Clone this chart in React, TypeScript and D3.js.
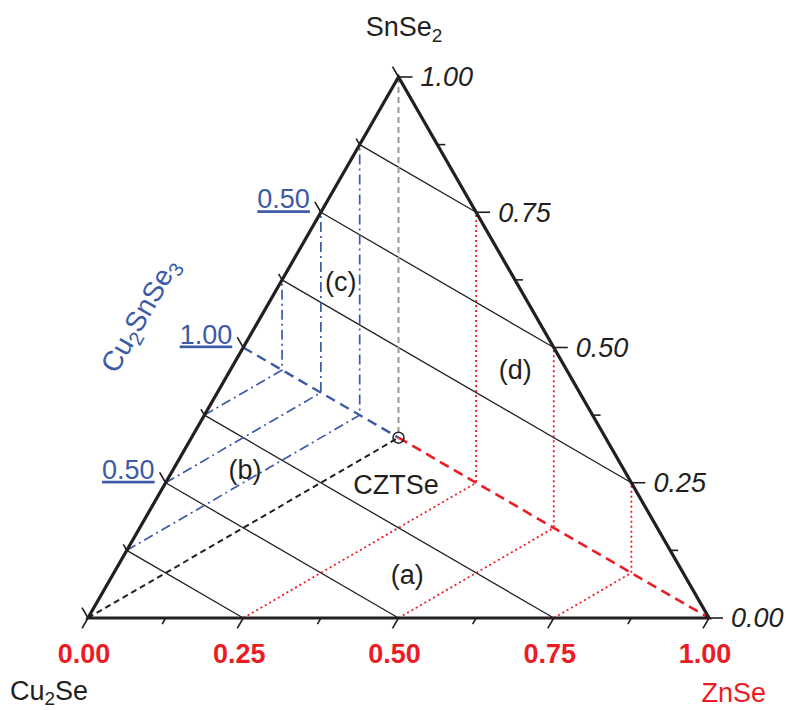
import React from "react";
import * as d3 from "d3";

// ternary frame: Cu2Se (left), ZnSe (right), SnSe2 (top)
const H = Math.sqrt(3) / 2;
const tickFractions = [0, 0.125, 0.25, 0.375, 0.5, 0.625, 0.75, 0.875, 1];
const majorFractions = [0, 0.25, 0.5, 0.75, 1];
const bottomLabels = ["0.00", "0.25", "0.50", "0.75", "1.00"]; // ZnSe
const rightLabels = ["0.00", "0.25", "0.50", "0.75", "1.00"]; // SnSe2
const leftLabelFractions = [0.25, 0.5, 0.75];
const leftLabels = ["0.50", "1.00", "0.50"]; // Cu2SnSe3
const gridFromLeft = [0.125, 0.25, 0.375, 0.625, 0.75, 0.875];
const blueFromLeft = [0.125, 0.25, 0.375];
const redFromBottom = [0.25, 0.5, 0.75];
const regionNames = ["(a)", "(b)", "(c)", "(d)", "CZTSe"];
const regionX = [0.514, 0.253, 0.407, 0.688, 0.496];
const regionY = [0.069, 0.237, 0.539, 0.397, 0.213];

const BLACK = "#231f20";
const BLUE = "#3c5aa6";
const RED = "#ed1c24";
const FONT = "'Liberation Sans', Arial, sans-serif";
const FS = 27;

type P = [number, number];

const A: P = [0, 0];
const B: P = [1, 0];
const C: P = [0.5, H];
const G: P = [0.5, H / 3]; // CZTSe
const M: P = [0.25, H / 2]; // Cu2SnSe3

const leftPt = (f: number): P => [0.5 * f, H * f];
const rightPt = (v: number): P => [1 - 0.5 * v, H * v];

// p + t*d = q + s*e
function meet(p: P, d: P, q: P, e: P): P {
  const det = -d[0] * e[1] + e[0] * d[1];
  const rx = q[0] - p[0],
    ry = q[1] - p[1];
  const t = (-rx * e[1] + e[0] * ry) / det;
  return [p[0] + t * d[0], p[1] + t * d[1]];
}

const UP30: P = [H, 0.5];
const DOWN30: P = [H, -0.5];
const LEFTSIDE: P = [0.5, H];
const RIGHTSIDE: P = [-0.5, H];

export default function App() {
  const width = 790,
    height = 710;
  const x = d3.scaleLinear().domain([0, 1]).range([88, 709]);
  const y = d3.scaleLinear().domain([0, H]).range([618, 77]);
  const line = d3
    .line<P>()
    .x((d) => x(d[0]))
    .y((d) => y(d[1]));

  // perpendicular grid lines from the Cu2Se-SnSe2 side
  const grid = gridFromLeft.map((f) => {
    const p = leftPt(f);
    const end = f < 0.5 ? meet(p, DOWN30, A, [1, 0]) : meet(p, DOWN30, B, RIGHTSIDE);
    return [p, end] as P[];
  });

  // blue dash-dot paths (regions b, c)
  const bluePaths = blueFromLeft.map((f) => {
    const p = leftPt(f);
    const k = meet(p, UP30, M, DOWN30);
    const top = meet(k, [0, 1], A, LEFTSIDE);
    return [p, k, top] as P[];
  });

  // red dotted paths (regions a, d)
  const redPaths = redFromBottom.map((u) => {
    const p: P = [u, 0];
    const k = meet(p, UP30, G, DOWN30);
    const top = meet(k, [0, 1], B, RIGHTSIDE);
    return [p, k, top] as P[];
  });

  const tick = (p: P, dx: number, dy: number, len: number, key: string) => (
    <line
      key={key}
      x1={x(p[0])}
      y1={y(p[1])}
      x2={x(p[0]) + dx * len}
      y2={y(p[1]) + dy * len}
      stroke={BLACK}
      strokeWidth={1.6}
    />
  );
  const isMajor = (f: number) => majorFractions.includes(f);

  return (
    <svg
      width={width}
      height={height}
      style={{ position: "absolute", left: 0, top: 0, background: "#fff" }}
      fontFamily={FONT}
    >
      {/* grid */}
      {grid.map((d, i) => (
        <path key={"g" + i} d={line(d)!} fill="none" stroke={BLACK} strokeWidth={1.3} />
      ))}

      {/* construction lines */}
      {bluePaths.map((d, i) => (
        <path
          key={"b" + i}
          d={line(d)!}
          fill="none"
          stroke={BLUE}
          strokeWidth={1.7}
          strokeDasharray="10,4,2,4"
        />
      ))}
      {redPaths.map((d, i) => (
        <path
          key={"r" + i}
          d={line(d)!}
          fill="none"
          stroke={RED}
          strokeWidth={1.8}
          strokeDasharray="2,3"
        />
      ))}
      <path d={line([C, G])!} stroke="#9a9a9a" strokeWidth={2} strokeDasharray="6,4" />
      <path d={line([A, G])!} stroke={BLACK} strokeWidth={2} strokeDasharray="6,4" />
      <path d={line([M, G])!} stroke={BLUE} strokeWidth={2.4} strokeDasharray="10,6" />
      <path d={line([G, B])!} stroke={RED} strokeWidth={2.6} strokeDasharray="10,6" />
      <circle cx={x(G[0])} cy={y(G[1])} r={5.5} fill="none" stroke={BLACK} strokeWidth={1.5} />

      {/* ticks */}
      {tickFractions.map((f) => tick(leftPt(f), -0.5, -H, isMajor(f) ? 12 : 7, "tl" + f))}
      {tickFractions.map((f) => tick([f, 0], -0.5, H, isMajor(f) ? 12 : 7, "tb" + f))}
      {tickFractions.map((f) => tick(rightPt(f), 1, 0, isMajor(f) ? 14 : 8, "tr" + f))}

      {/* frame */}
      <path
        d={line([A, B, C])! + "Z"}
        fill="none"
        stroke={BLACK}
        strokeWidth={3.2}
        strokeLinejoin="miter"
      />

      {/* ZnSe scale */}
      {majorFractions.map((f, i) => (
        <text
          key={"lb" + i}
          x={x(f) - 4}
          y={663}
          textAnchor="middle"
          fontSize={FS}
          fontWeight="bold"
          fill={RED}
        >
          {bottomLabels[i]}
        </text>
      ))}

      {/* SnSe2 scale */}
      {majorFractions.map((f, i) => (
        <text
          key={"lr" + i}
          x={x(rightPt(f)[0]) + 22}
          y={y(rightPt(f)[1])}
          dy="0.35em"
          fontSize={FS}
          fontStyle="italic"
          fill={BLACK}
        >
          {rightLabels[i]}
        </text>
      ))}

      {/* Cu2SnSe3 scale */}
      {leftLabelFractions.map((f, i) => (
        <text
          key={"ll" + i}
          x={x(leftPt(f)[0]) - 11}
          y={y(leftPt(f)[1]) - 4}
          textAnchor="end"
          fontSize={FS}
          fill={BLUE}
          textDecoration="underline"
        >
          {leftLabels[i]}
        </text>
      ))}

      {/* region labels */}
      {regionNames.map((n, i) => (
        <text
          key={"rn" + i}
          x={x(regionX[i])}
          y={y(regionY[i])}
          dy="0.35em"
          textAnchor="middle"
          fontSize={FS}
          fill={BLACK}
        >
          {n}
        </text>
      ))}

      {/* compound names */}
      <text x={404} y={36} textAnchor="middle" fontSize={FS} fill={BLACK}>
        SnSe
        <tspan fontSize={19} dy={6}>
          2
        </tspan>
      </text>
      <text x={10} y={700} fontSize={FS} fill={BLACK}>
        Cu
        <tspan fontSize={19} dy={5}>
          2
        </tspan>
        <tspan dy={-5}>Se</tspan>
      </text>
      <text x={766} y={702} textAnchor="end" fontSize={FS} fill={RED}>
        ZnSe
      </text>
      <text
        transform="translate(148,320) rotate(-60)"
        textAnchor="middle"
        fontSize={28}
        fill={BLUE}
      >
        Cu
        <tspan fontSize={20} dy={6}>
          2
        </tspan>
        <tspan dy={-6}>SnSe</tspan>
        <tspan fontSize={20} dy={6}>
          3
        </tspan>
      </text>
    </svg>
  );
}
